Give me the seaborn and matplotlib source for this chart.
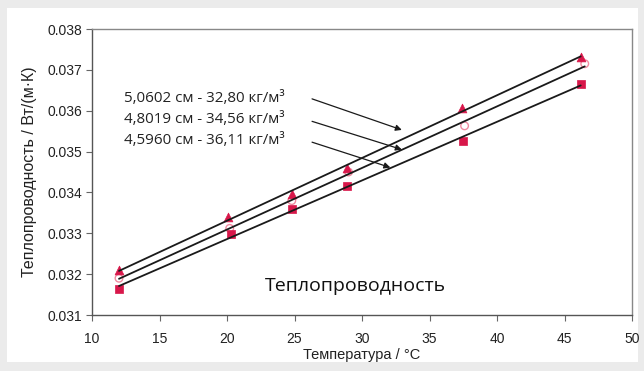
import matplotlib
matplotlib.use("Agg")
import matplotlib.pyplot as plt
import seaborn as sns
import pandas as pd
from matplotlib.patches import Rectangle

# Data
temp_tri = [12.0, 20.1, 24.8, 28.9, 37.4, 46.2]
k_tri = [0.03209, 0.03339, 0.03396, 0.03461, 0.03607, 0.03731]
temp_circ = [12.0, 20.2, 24.8, 29.0, 37.6, 46.5]
k_circ = [0.03190, 0.03312, 0.03380, 0.03450, 0.03563, 0.03715]
temp_sq = [12.0, 20.3, 24.8, 28.9, 37.5, 46.2]
k_sq = [0.03164, 0.03298, 0.03359, 0.03415, 0.03527, 0.03665]

labels = ["5,0602 см - 32,80 кг/м³", "4,8019 см - 34,56 кг/м³", "4,5960 см - 36,11 кг/м³"]
x_ticks = [10, 15, 20, 25, 30, 35, 40, 45, 50]
y_ticks = [0.031, 0.032, 0.033, 0.034, 0.035, 0.036, 0.037, 0.038]

sns.set_theme(style="white")
plt.rcParams['font.family'] = ['Liberation Sans', 'DejaVu Sans']

fig = plt.figure(figsize=(6.44, 3.71), dpi=100)
fig.patch.set_facecolor("#ebebeb")
fig.patches.append(Rectangle((7/644, 1-362/371), 631/644, 354/371, transform=fig.transFigure,
                             facecolor="white", edgecolor="none", zorder=-10))
ax = fig.add_axes([92/644, 1-315/371, 540/644, 286/371])
ax.set_zorder(5)
ax.set_facecolor("white")

red = "#d8174a"
df_tri = pd.DataFrame({"t": temp_tri, "k": k_tri})
df_circ = pd.DataFrame({"t": temp_circ, "k": k_circ})
df_sq = pd.DataFrame({"t": temp_sq, "k": k_sq})

sns.scatterplot(data=df_circ, x="t", y="k", ax=ax, marker="o", s=30,
                facecolor="none", edgecolor="#f08aa0", linewidth=1.0, zorder=2)
sns.scatterplot(data=df_tri, x="t", y="k", ax=ax, marker="^", s=40,
                color=red, edgecolor=red, linewidth=0.5, zorder=2)
sns.scatterplot(data=df_sq, x="t", y="k", ax=ax, marker="s", s=32,
                color=red, edgecolor=red, linewidth=0.5, zorder=2)

for d in (df_tri, df_circ, df_sq):
    sns.regplot(data=d, x="t", y="k", ax=ax, scatter=False, ci=None,
                line_kws=dict(color="#1a1a1a", lw=1.3, zorder=3))

ax.set_xlim(10, 50)
ax.set_ylim(0.031, 0.038)
ax.set_xticks(x_ticks)
ax.set_xticklabels([str(v) for v in x_ticks])
ax.set_yticks(y_ticks)
ax.set_yticklabels([f"{v:.3f}" for v in y_ticks])
ax.tick_params(axis="both", direction="out", length=4, width=0.8, color="#666666",
               labelsize=10, labelcolor="#222222")
ax.tick_params(axis="x", pad=8)
ax.tick_params(axis="y", pad=3)
ax.tick_params(bottom=True, left=True)

for s in ("left", "bottom"):
    ax.spines[s].set_color("#555555")
    ax.spines[s].set_linewidth(1.0)
for s in ("top", "right"):
    ax.spines[s].set_color("#888888")
    ax.spines[s].set_linewidth(1.0)

ax.set_xlabel("Температура / °C", fontsize=10.5, color="#222222", labelpad=2)
ax.set_ylabel("Теплопроводность / Вт/(м·К)", fontsize=11.5, color="#222222")
ax.yaxis.set_label_coords(-0.102, 0.5)

# annotations
text_y = [0.03629, 0.03578, 0.03527]
arrow_start = [(26.3, 0.03629), (26.3, 0.03574), (26.3, 0.03523)]
arrow_tip = [(32.95, 0.03553), (32.95, 0.03505), (32.1, 0.03461)]
for lab, ty, st, tip in zip(labels, text_y, arrow_start, arrow_tip):
    ax.text(12.4, ty, lab, fontsize=10.9, family=["Open Sans", "DejaVu Sans"],
            color="#222222", va="center", ha="left")
    ax.annotate("", xy=tip, xytext=st,
                arrowprops=dict(arrowstyle="-|>", color="#1a1a1a", lw=0.9,
                                mutation_scale=9, shrinkA=0, shrinkB=0))

ax.text(29.5, 0.03172, "Теплопроводность", fontsize=14,
        family=["Open Sans", "DejaVu Sans"], color="#111111", ha="center", va="center")

fig.savefig("out.png", dpi=100, facecolor=fig.get_facecolor())
